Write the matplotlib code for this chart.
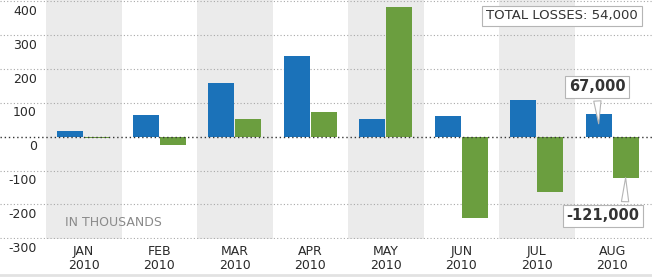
import matplotlib
matplotlib.use('Agg')
import matplotlib.pyplot as plt
from matplotlib.transforms import ScaledTranslation
from matplotlib.lines import Line2D
import numpy as np

months = ["JAN\n2010", "FEB\n2010", "MAR\n2010", "APR\n2010",
          "MAY\n2010", "JUN\n2010", "JUL\n2010", "AUG\n2010"]
private = [18, 65, 158, 239, 52, 60, 109, 67]
government = [-5, -25, 52, 74, 383, -239, -164, -121]
yticks = [400, 300, 200, 100, 0, -100, -200, -300]
total_label = "TOTAL LOSSES: 54,000"
units_label = "IN THOUSANDS"
aug_private_label = "67,000"
aug_gov_label = "-121,000"

plt.rcParams['font.family'] = ['DejaVu Sans']

W, H = 652, 277
fig = plt.figure(figsize=(W / 100, H / 100), dpi=100)
fig.patch.set_facecolor('white')
ax = fig.add_axes([0, 38 / H, 1, 239 / H])
mw = 75.5
ax.set_xlim(-46 / mw, (W - 46) / mw)
ax.set_ylim(-302, 404)
for s in ax.spines.values():
    s.set_visible(False)

# shaded month bands
for i in range(len(months)):
    if i % 2 == 0:
        ax.axvspan(i, i + 1, color='#ebebeb', lw=0, zorder=0)

# grid
ax.set_yticks(yticks)
for t in yticks:
    if t == 0:
        ax.axhline(t, color='#333333', ls=(0, (1, 2)), lw=1.0, zorder=4)
    else:
        ax.axhline(t, color='#a8a8a8', ls=(0, (1, 2)), lw=0.8, zorder=1)

x = np.arange(len(months)) + 0.5
bw = 0.345
off = 0.178
ax.bar(x - off, private, width=bw, color='#1b72b9', zorder=3)
ax.bar(x + off, government, width=bw, color='#6b9e3f', zorder=3)

# y tick labels
ax.tick_params(axis='y', length=0, pad=-37 * 72 / 100, labelsize=9,
               labelcolor='#2a2a2a')
ax.set_yticklabels([str(t) for t in yticks])
for lab in ax.get_yticklabels():
    lab.set_transform(lab.get_transform() +
                      ScaledTranslation(0, -8.5 / 100, fig.dpi_scale_trans))

# x tick labels
ax.set_xticks(x)
ax.set_xticklabels(months, linespacing=1.15)
ax.tick_params(axis='x', length=0, pad=4, labelsize=9, labelcolor='#2a2a2a')

# annotations
box = dict(boxstyle='square,pad=0.25', fc='white', ec='#b5b5b5', lw=0.8)
arr_up = dict(arrowstyle='wedge,tail_width=0.5,shrink_factor=0.5',
              fc='white', ec='#b5b5b5', lw=0.8, relpos=(0.5, 0.0))
arr_dn = dict(arrowstyle='wedge,tail_width=0.5,shrink_factor=0.5',
              fc='white', ec='#b5b5b5', lw=0.8, relpos=(0.8, 1.0))
ax.annotate(aug_private_label, xy=(x[-1] - off, private[-1] * 0.45),
            xytext=((597 - 46) / mw, 148), ha='center', va='center',
            fontsize=10.5, fontweight='bold', color='#333333',
            bbox=box, arrowprops=arr_up, zorder=6)
ax.annotate(aug_gov_label, xy=(x[-1] + off, government[-1] * 0.93),
            xytext=((603 - 46) / mw, -234), ha='center', va='center',
            fontsize=10.5, fontweight='bold', color='#333333',
            bbox=box, arrowprops=arr_dn, zorder=6)

ax.text(562 / W, 1 - 16 / 239, total_label, transform=ax.transAxes,
        ha='center', va='center', fontsize=9.5, color='#333333',
        bbox=dict(boxstyle='square,pad=0.3', fc='white', ec='#b5b5b5', lw=0.8),
        zorder=6)
ax.text((65 - 46) / mw, -254, units_label, ha='left', va='center',
        fontsize=9, color='#8a8a8a', zorder=5)

fig.add_artist(Line2D([0, 1], [2 / H, 2 / H], transform=fig.transFigure,
                      color='#e2e2e2', lw=2))

fig.savefig('out.png', dpi=100)
